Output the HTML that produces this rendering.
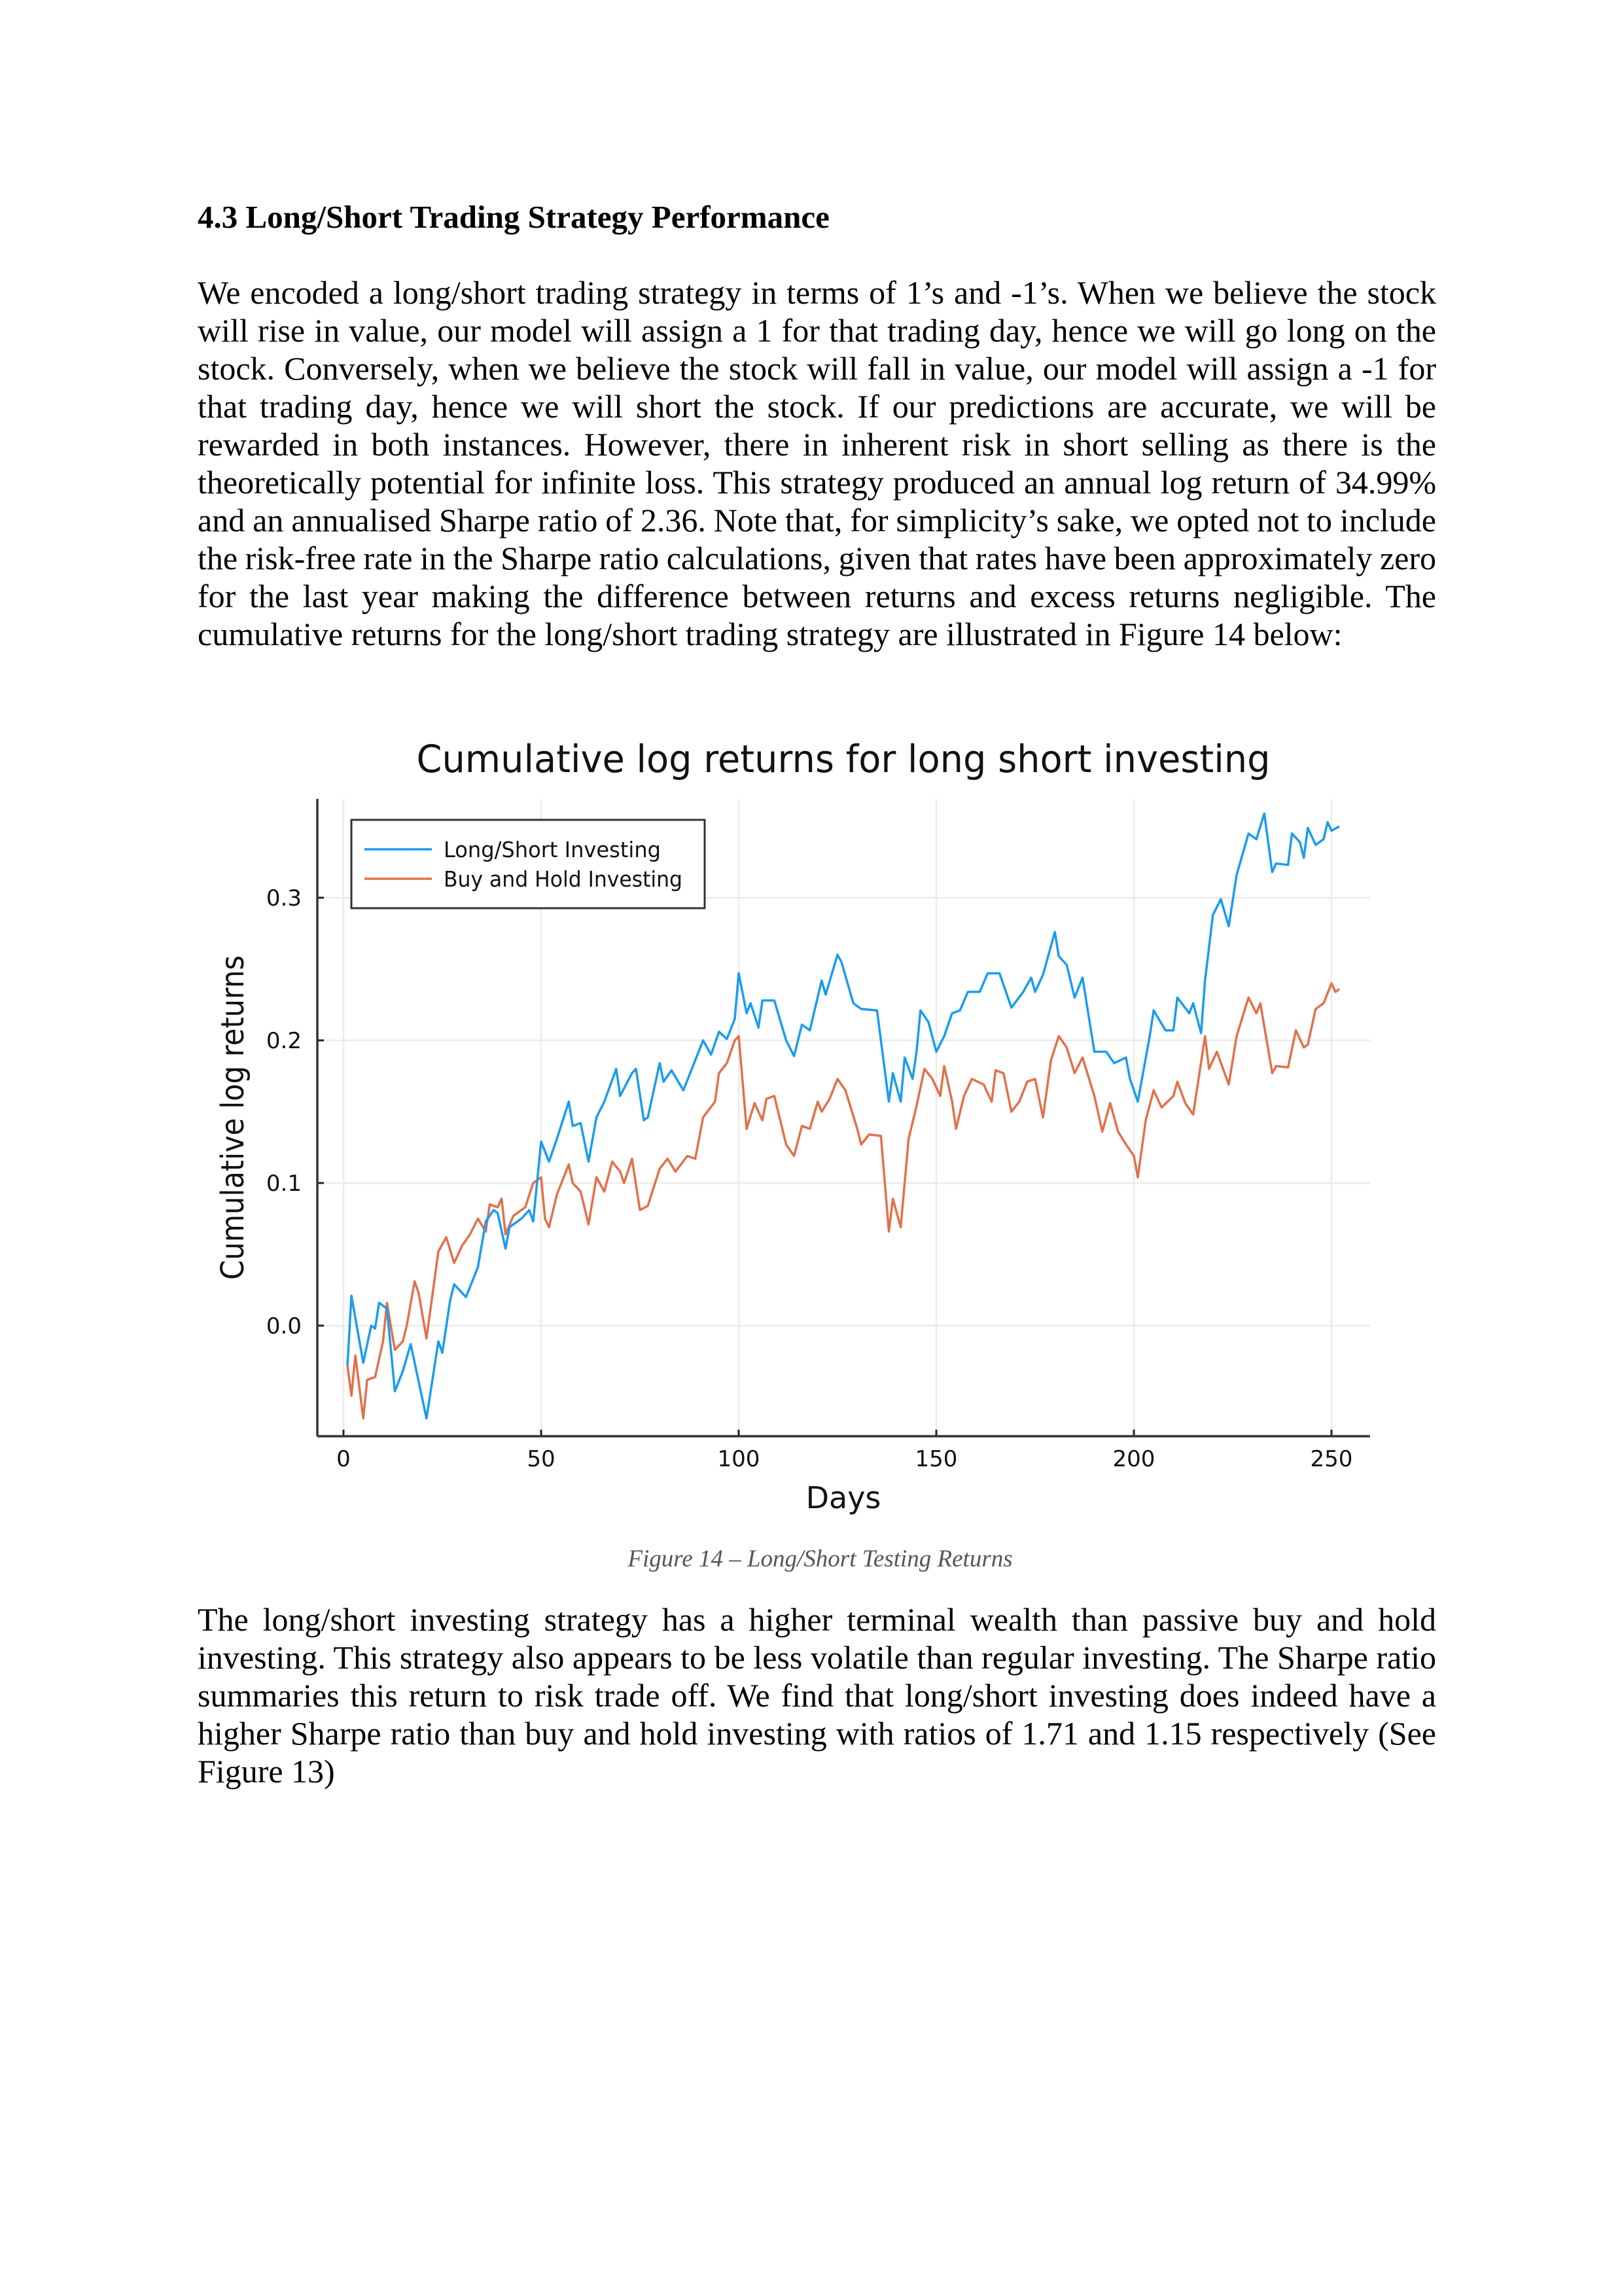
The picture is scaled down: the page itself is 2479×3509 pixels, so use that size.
<!DOCTYPE html>
<html><head><meta charset="utf-8">
<style>
html,body{margin:0;padding:0;background:#fff;}
#page{position:relative;width:2479px;height:3509px;background:#fff;overflow:hidden;font-family:"Liberation Serif",serif;color:#000;}
.ln{position:absolute;left:302px;font-size:50px;line-height:58px;white-space:nowrap;}
</style></head>
<body>
<div id="page">
<div style="position:absolute;left:302px;top:303px;font-size:49px;font-weight:bold;line-height:58px;white-space:nowrap;">4.3 Long/Short Trading Strategy Performance</div>
<div>
<div class="ln j" style="top:418px">We encoded a long/short trading strategy in terms of 1’s and -1’s. When we believe the stock</div>
<div class="ln j" style="top:476px">will rise in value, our model will assign a 1 for that trading day, hence we will go long on the</div>
<div class="ln j" style="top:534px">stock. Conversely, when we believe the stock will fall in value, our model will assign a -1 for</div>
<div class="ln j" style="top:592px">that trading day, hence we will short the stock. If our predictions are accurate, we will be</div>
<div class="ln j" style="top:650px">rewarded in both instances. However, there in inherent risk in short selling as there is the</div>
<div class="ln j" style="top:708px">theoretically potential for infinite loss. This strategy produced an annual log return of 34.99%</div>
<div class="ln j" style="top:766px">and an annualised Sharpe ratio of 2.36. Note that, for simplicity’s sake, we opted not to include</div>
<div class="ln j" style="top:824px">the risk-free rate in the Sharpe ratio calculations, given that rates have been approximately zero</div>
<div class="ln j" style="top:882px">for the last year making the difference between returns and excess returns negligible. The</div>
<div class="ln" style="top:940px">cumulative returns for the long/short trading strategy are illustrated in Figure 14 below:</div>
</div>

<svg id="chart" style="position:absolute;left:0;top:0" width="2479" height="2450" font-family="'DejaVu Sans',sans-serif">
<g id="grid"></g>
<g id="series"></g>
<g id="axes"></g>
<text x="1289" y="1180" text-anchor="middle" font-size="58" fill="#111" textLength="1305" lengthAdjust="spacingAndGlyphs">Cumulative log returns for long short investing</text>
<text x="1289" y="2305" text-anchor="middle" font-size="46" fill="#111">Days</text>
<text transform="translate(372,1708) rotate(-90)" text-anchor="middle" font-size="48" fill="#111" textLength="496" lengthAdjust="spacingAndGlyphs">Cumulative log returns</text>
<g>
<rect x="537" y="1253" width="540" height="135" fill="#fff" stroke="#333" stroke-width="3"/>
<line x1="557" y1="1298" x2="660" y2="1298" stroke="#1a9cf0" stroke-width="3.5"/>
<text x="678" y="1310" font-size="33" fill="#111" textLength="332" lengthAdjust="spacingAndGlyphs">Long/Short Investing</text>
<line x1="557" y1="1343" x2="660" y2="1343" stroke="#e3704a" stroke-width="3.5"/>
<text x="678" y="1355" font-size="33" fill="#111" textLength="365" lengthAdjust="spacingAndGlyphs">Buy and Hold Investing</text>
</g>
</svg>

<div style="position:absolute;left:0;width:2479px;text-align:center;top:2361px;font-size:37px;font-style:italic;color:#555;padding-left:28px;box-sizing:border-box;">Figure 14 – Long/Short Testing Returns</div>

<div>
<div class="ln j" style="top:2446px">The long/short investing strategy has a higher terminal wealth than passive buy and hold</div>
<div class="ln j" style="top:2504px">investing. This strategy also appears to be less volatile than regular investing. The Sharpe ratio</div>
<div class="ln j" style="top:2562px">summaries this return to risk trade off. We find that long/short investing does indeed have a</div>
<div class="ln j" style="top:2620px">higher Sharpe ratio than buy and hold investing with ratios of 1.71 and 1.15 respectively (See</div>
<div class="ln" style="top:2678px">Figure 13)</div>
</div>
</div>
<script>
document.querySelectorAll('.j').forEach(el=>{
  const w=el.getBoundingClientRect().width;
  const n=(el.textContent.match(/ /g)||[]).length;
  if(n>0) el.style.wordSpacing=((1893-w)/n)+'px';
});

const lsDays=[1,2,5,7,8,9,11,13,15,17,21,24,25,27,28,31,34,36,38,39,41,42,45,47,48,50,52,54,57,58,60,62,64,66,69,70,73,74,76,77,80,81,83,86,88,91,93,95,97,99,100,102,103,105,106,109,112,114,116,118,121,122,125,126,129,131,135,138,139,141,142,144,145,146,148,150,152,154,156,158,161,163,166,169,172,174,175,177,180,181,183,185,187,190,193,195,198,199,201,204,205,208,210,211,214,215,217,218,220,222,224,226,229,231,233,235,236,239,240,242,243,244,246,248,249,250,252];
const lsValues=[-0.028,0.021,-0.026,0.0,-0.002,0.016,0.012,-0.046,-0.032,-0.013,-0.065,-0.011,-0.019,0.018,0.029,0.02,0.041,0.073,0.081,0.079,0.054,0.069,0.075,0.081,0.073,0.129,0.115,0.131,0.157,0.14,0.142,0.115,0.146,0.157,0.18,0.161,0.177,0.18,0.144,0.146,0.184,0.171,0.179,0.165,0.179,0.2,0.19,0.206,0.201,0.215,0.247,0.219,0.226,0.209,0.228,0.228,0.2,0.189,0.211,0.207,0.242,0.232,0.26,0.255,0.226,0.222,0.221,0.157,0.177,0.157,0.188,0.173,0.192,0.221,0.213,0.192,0.203,0.219,0.221,0.234,0.234,0.247,0.247,0.223,0.234,0.244,0.234,0.246,0.276,0.259,0.253,0.23,0.244,0.192,0.192,0.184,0.188,0.173,0.157,0.203,0.221,0.207,0.207,0.23,0.219,0.226,0.205,0.242,0.288,0.299,0.28,0.316,0.345,0.341,0.359,0.318,0.324,0.323,0.345,0.339,0.328,0.349,0.337,0.341,0.353,0.347,0.35];
const bhDays=[1,2,3,5,6,8,10,11,13,15,16,18,19,21,24,26,28,30,32,34,36,37,39,40,41,43,46,48,50,51,52,54,57,58,60,62,64,66,68,70,71,73,75,77,80,82,84,87,89,91,94,95,97,99,100,102,104,106,107,109,112,114,116,118,120,121,123,125,127,130,131,133,136,138,139,141,143,145,147,149,151,152,154,155,157,159,162,164,165,167,169,171,173,175,177,179,181,183,185,187,190,192,194,196,198,200,201,203,205,207,210,211,213,215,218,219,221,224,226,229,231,232,235,236,239,241,243,244,246,248,250,251,252];
const bhValues=[-0.028,-0.049,-0.021,-0.065,-0.038,-0.036,-0.011,0.016,-0.017,-0.011,0.0,0.031,0.023,-0.009,0.052,0.062,0.044,0.056,0.064,0.075,0.066,0.085,0.083,0.089,0.064,0.077,0.083,0.1,0.104,0.075,0.069,0.092,0.113,0.1,0.094,0.071,0.104,0.094,0.115,0.108,0.1,0.117,0.081,0.084,0.11,0.117,0.108,0.119,0.117,0.146,0.157,0.177,0.184,0.2,0.203,0.138,0.156,0.144,0.159,0.161,0.127,0.119,0.14,0.138,0.157,0.15,0.159,0.173,0.165,0.138,0.127,0.134,0.133,0.066,0.089,0.069,0.131,0.154,0.18,0.173,0.161,0.182,0.157,0.138,0.161,0.173,0.169,0.157,0.179,0.177,0.15,0.157,0.171,0.173,0.146,0.186,0.203,0.195,0.177,0.188,0.161,0.136,0.156,0.136,0.127,0.119,0.104,0.144,0.165,0.153,0.161,0.171,0.156,0.148,0.203,0.18,0.192,0.169,0.203,0.23,0.219,0.226,0.177,0.182,0.181,0.207,0.195,0.197,0.222,0.226,0.24,0.234,0.236];
const xTicks=[0,50,100,150,200,250];
const yTicks=[0.0,0.1,0.2,0.3];
const yTickLabels=["0.0","0.1","0.2","0.3"];

const NS="http://www.w3.org/2000/svg";
const PL=485,PR=2094,PT=1221,PB=2195;
function xs(d){return 525+(d-0)*(2035-525)/250;}
function ys(v){return 2026+(v-0)*(1372-2026)/0.3;}
function mk(tag,attrs,parent){const e=document.createElementNS(NS,tag);for(const k in attrs)e.setAttribute(k,attrs[k]);parent.appendChild(e);return e;}
const grid=document.getElementById('grid'),axes=document.getElementById('axes'),series=document.getElementById('series');
xTicks.forEach(t=>{
  const g=mk('line',{x1:xs(t),x2:xs(t),y1:PT,y2:PB,stroke:'#ebebeb','stroke-width':2.5},grid);
  
  
  const tk=mk('line',{x1:xs(t),x2:xs(t),y1:PB-10,y2:PB,stroke:'#222','stroke-width':3},axes);
  
  
  const lb=mk('text',{x:xs(t),y:2241,'text-anchor':'middle','font-size':34,fill:'#111'},axes);
  lb.textContent=String(t);
  
  
});
yTicks.forEach((t,i)=>{
  const g=mk('line',{x1:PL,x2:PR,y1:ys(t),y2:ys(t),stroke:'#ebebeb','stroke-width':2.5},grid);
  
  
  const tk=mk('line',{x1:PL,x2:PL+10,y1:ys(t),y2:ys(t),stroke:'#222','stroke-width':3},axes);
  
  
  const lb=mk('text',{x:461,y:ys(t)+12,'text-anchor':'end','font-size':34,fill:'#111'},axes);
  lb.textContent=yTickLabels[i];
  
  
});
const sp1=mk('line',{x1:PL,x2:PL,y1:PT,y2:PB,stroke:'#333','stroke-width':3.5},axes);


const sp2=mk('line',{x1:PL,x2:PR,y1:PB,y2:PB,stroke:'#333','stroke-width':3.5},axes);


function path(days,vals){return days.map((d,i)=>(i?'L':'M')+xs(d).toFixed(1)+' '+ys(vals[i]).toFixed(1)).join(' ');}
const p2=mk('path',{d:path(bhDays,bhValues),fill:'none',stroke:'#e3704a','stroke-width':3.5,'stroke-linejoin':'round'},series);


const p1=mk('path',{d:path(lsDays,lsValues),fill:'none',stroke:'#1a9cf0','stroke-width':3.5,'stroke-linejoin':'round'},series);


</script>
</body></html>
